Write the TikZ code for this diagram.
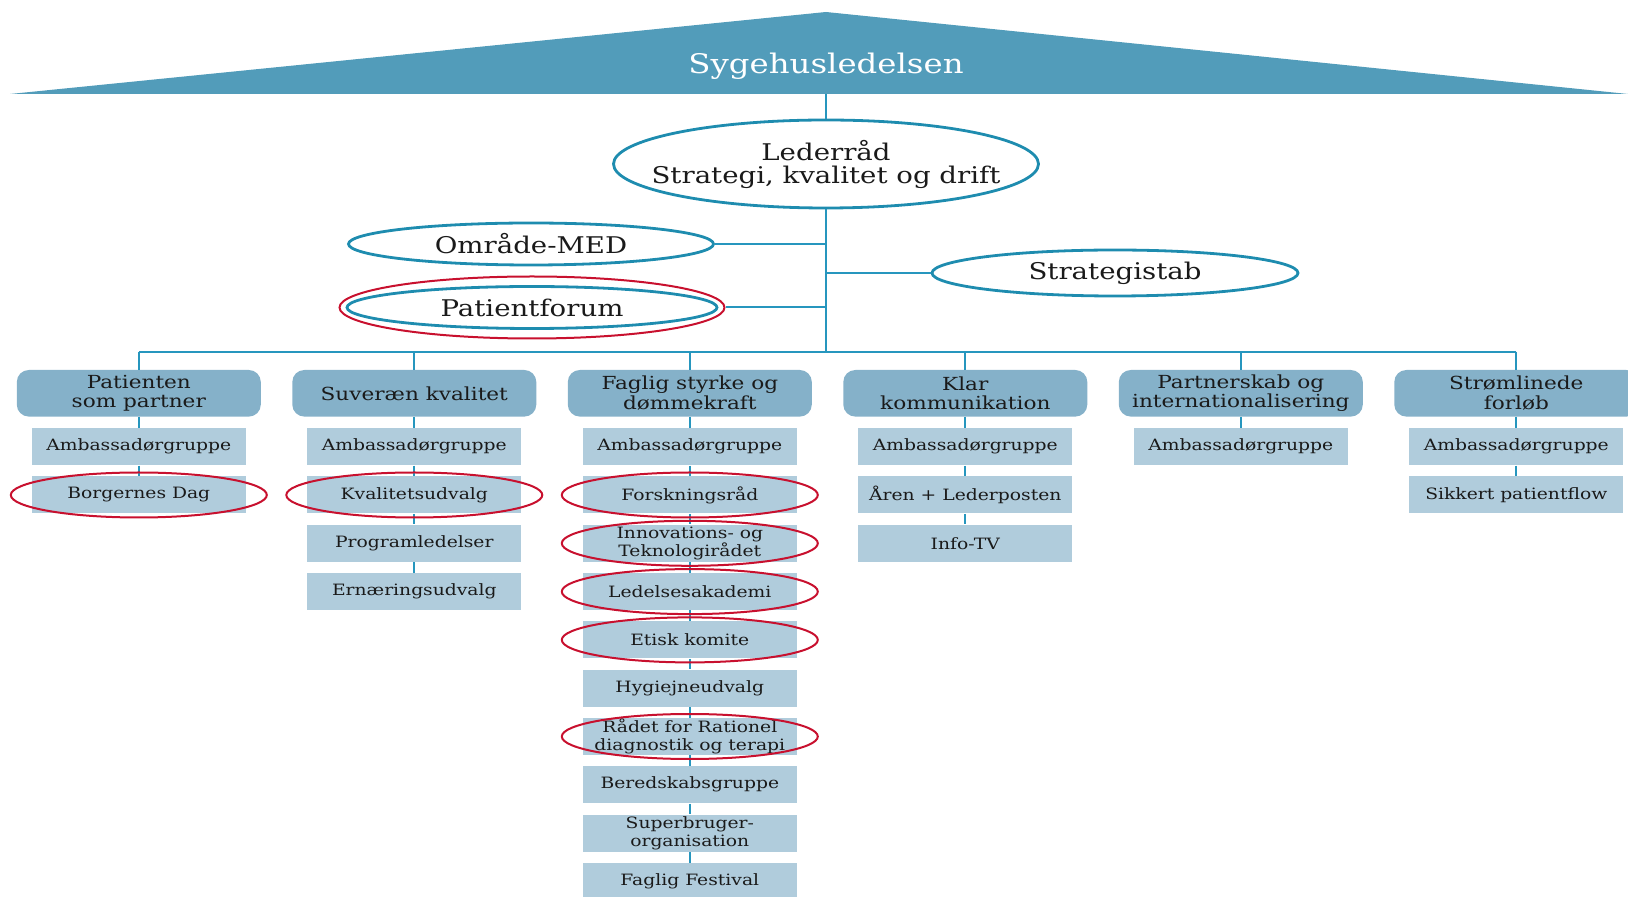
\documentclass[tikz,border=0pt]{standalone}
\usepackage{fontspec}
\setmainfont{DejaVu Serif}[FakeStretch=1.2]
\usetikzlibrary{shapes.geometric}
\definecolor{roofblue}{HTML}{529CBA}
\definecolor{headblue}{HTML}{85B1C9}
\definecolor{boxblue}{HTML}{B0CCDC}
\definecolor{lineblue}{HTML}{2696BE}
\definecolor{ringblue}{HTML}{1E8CAF}
\definecolor{ringred}{HTML}{C8102E}
\definecolor{ink}{HTML}{1A1A1A}

\begin{document}
\begin{tikzpicture}[x=0.5pt, y=-0.5pt,
  forum/.style={ellipse, draw=ringblue, line width=1.4pt, inner sep=0pt, text=ink, font=\fontsize{11.5}{11.5}\selectfont},
  theme/.style={rectangle, rounded corners=6pt, fill=headblue, minimum width=122pt, minimum height=23.3pt, inner sep=0pt, align=center, text=ink, font=\fontsize{9}{9.8}\selectfont},
  group/.style={rectangle, fill=boxblue, minimum width=107pt, minimum height=18.5pt, inner sep=0pt, align=center, text=ink, font=\fontsize{7.8}{8.8}\selectfont},
  redring/.style={ellipse, draw=ringred, line width=1pt, minimum width=128pt, minimum height=22.5pt, inner sep=0pt},
  link/.style={draw=lineblue, line width=1pt}]
\useasboundingbox (0,0) rectangle (1628,897);

% roof
\fill[roofblue] (10,94) -- (826,12) -- (1628,94) -- cycle;
\node[text=white, anchor=base, font=\fontsize{13.5}{13.5}\selectfont] (sygehus) at (826,74) {Sygehusledelsen};
\coordinate (roofbase) at (826,94);

% leadership
\node[forum, inner xsep=-14pt, minimum width=212.5pt, minimum height=44pt, align=center] (lederraad) at (826,164) {Lederråd\\Strategi, kvalitet og drift};
\node[forum, minimum width=182.5pt, minimum height=21pt] (omraade) at (531,244) {Område-MED};
\node[forum, minimum width=185pt, minimum height=21pt] (patientforum) at (532,307.5) {Patientforum};
\node[redring, minimum width=192.5pt, minimum height=31pt] (pfring) at (532,307.5) {};
\node[forum, minimum width=183pt, minimum height=23pt] (strategistab) at (1115,273) {Strategistab};

\coordinate (spineA) at (826,244);
\coordinate (spineB) at (826,307.5);
\coordinate (spineC) at (826,273);
\coordinate (busmid) at (826,351.7);
\draw[link] (roofbase) -- (lederraad);
\draw[link] (lederraad) -- (busmid);
\draw[link] (omraade) -- (spineA);
\draw[link] (pfring) -- (spineB);
\draw[link] (spineC) -- (strategistab);

% bus
\coordinate (bus1) at (138.8,351.7);
\coordinate (bus2) at (414.3,351.7);
\coordinate (bus3) at (689.8,351.7);
\coordinate (bus4) at (965.3,351.7);
\coordinate (bus5) at (1240.8,351.7);
\coordinate (bus6) at (1516.3,351.7);
\draw[link] (bus1) -- (bus6);

% themes
\node[theme] (h1) at (138.8,393.3) {Patienten\\som partner};
\node[theme] (h2) at (414.3,393.3) {Suveræn kvalitet};
\node[theme] (h3) at (689.8,393.3) {Faglig styrke og\\dømmekraft};
\node[theme] (h4) at (965.3,393.3) {Klar\\kommunikation};
\node[theme] (h5) at (1240.8,393.3) {Partnerskab og\\internationalisering};
\node[theme] (h6) at (1516.3,393.3) {Strømlinede\\forløb};
\draw[link] (bus1) -- (h1);
\draw[link] (bus2) -- (h2);
\draw[link] (bus3) -- (h3);
\draw[link] (bus4) -- (h4);
\draw[link] (bus5) -- (h5);
\draw[link] (bus6) -- (h6);

% column 1
\node[group] (g11) at (138.8,446.7) {Ambassadørgruppe};
\node[group] (g12) at (138.8,495) {Borgernes Dag};
\draw[link] (h1) -- (g11);
\draw[link] (g11) -- (g12);
\node[redring] (ring12) at (g12) {};

% column 2
\node[group] (g21) at (414.3,446.7) {Ambassadørgruppe};
\node[group] (g22) at (414.3,495) {Kvalitetsudvalg};
\node[group] (g23) at (414.3,543.3) {Programledelser};
\node[group] (g24) at (414.3,591.6) {Ernæringsudvalg};
\draw[link] (h2) -- (g21);
\draw[link] (g21) -- (g22);
\draw[link] (g22) -- (g23);
\draw[link] (g23) -- (g24);
\node[redring] (ring22) at (g22) {};

% column 3
\node[group] (g31) at (689.8,446.7) {Ambassadørgruppe};
\node[group] (g32) at (689.8,495) {Forskningsråd};
\node[group] (g33) at (689.8,543.3) {Innovations- og\\Teknologirådet};
\node[group] (g34) at (689.8,591.6) {Ledelsesakademi};
\node[group] (g35) at (689.8,639.9) {Etisk komite};
\node[group] (g36) at (689.8,688.2) {Hygiejneudvalg};
\node[group] (g37) at (689.8,736.5) {Rådet for Rationel\\diagnostik og terapi};
\node[group] (g38) at (689.8,784.8) {Beredskabsgruppe};
\node[group] (g39) at (689.8,833.1) {Superbruger-\\organisation};
\node[group] (g310) at (689.8,881.4) {Faglig Festival};
\draw[link] (h3) -- (g31);
\draw[link] (g31) -- (g32);
\draw[link] (g32) -- (g33);
\draw[link] (g33) -- (g34);
\draw[link] (g34) -- (g35);
\draw[link] (g35) -- (g36);
\draw[link] (g36) -- (g37);
\draw[link] (g37) -- (g38);
\draw[link] (g38) -- (g39);
\draw[link] (g39) -- (g310);
\node[redring] (ring32) at (g32) {};
\node[redring] (ring33) at (g33) {};
\node[redring] (ring34) at (g34) {};
\node[redring] (ring35) at (g35) {};
\node[redring] (ring37) at (g37) {};

% column 4
\node[group] (g41) at (965.3,446.7) {Ambassadørgruppe};
\node[group] (g42) at (965.3,495) {Åren + Lederposten};
\node[group] (g43) at (965.3,543.3) {Info-TV};
\draw[link] (h4) -- (g41);
\draw[link] (g41) -- (g42);
\draw[link] (g42) -- (g43);

% column 5
\node[group] (g51) at (1240.8,446.7) {Ambassadørgruppe};
\draw[link] (h5) -- (g51);

% column 6
\node[group] (g61) at (1516.3,446.7) {Ambassadørgruppe};
\node[group] (g62) at (1516.3,495) {Sikkert patientflow};
\draw[link] (h6) -- (g61);
\draw[link] (g61) -- (g62);
\end{tikzpicture}
\end{document}
